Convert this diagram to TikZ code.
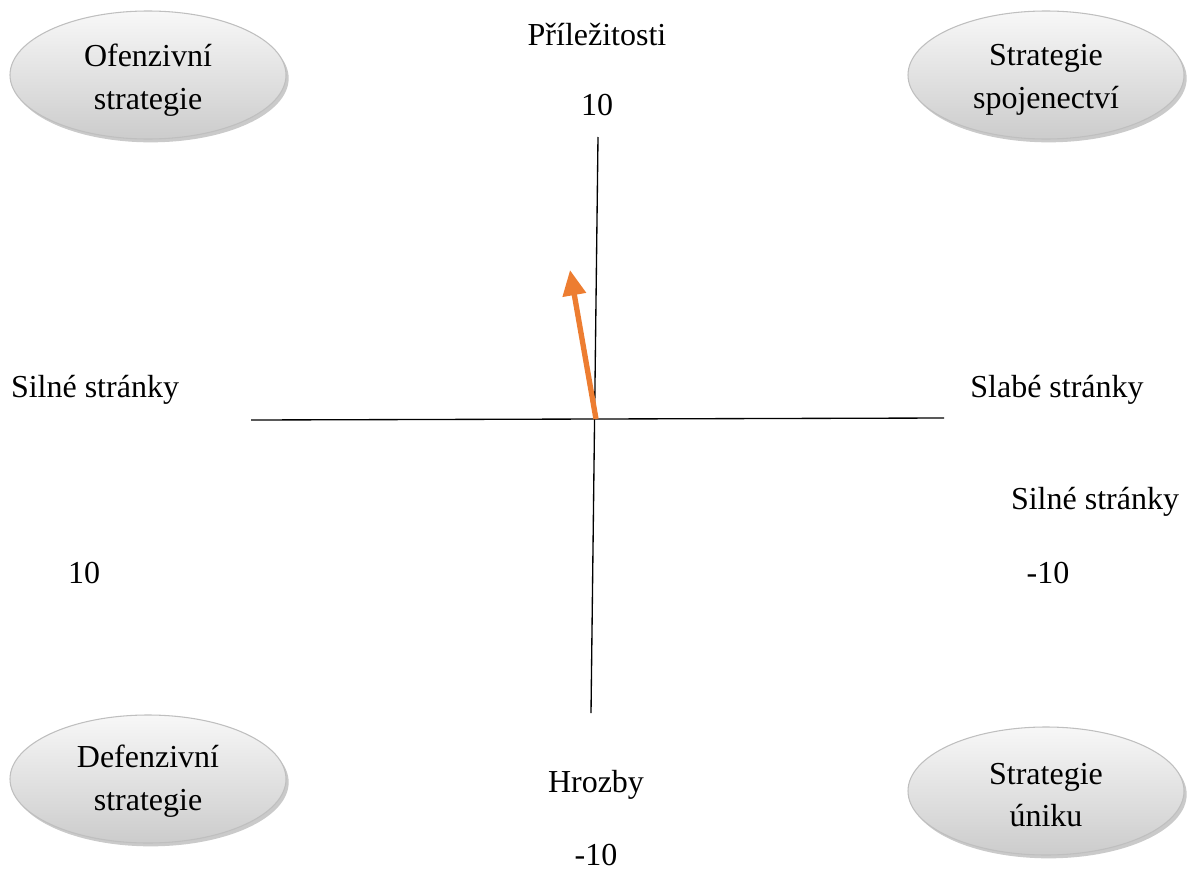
\documentclass[tikz,border=0pt]{standalone}
\usepackage{fontspec}
\setmainfont{Liberation Serif}
\usetikzlibrary{shapes.geometric,shadows,arrows.meta}
\tikzset{
  strat/.style={ellipse, minimum width=207pt, minimum height=96pt, inner sep=0pt,
    draw=black!25, line width=0.8pt, top color=black!3, bottom color=black!20,
    shading angle=0, drop shadow={shadow xshift=2pt, shadow yshift=-2.5pt, opacity=0.35, fill=black!60}},
  strattext/.style={align=center, inner sep=0pt, font=\fontsize{24}{32}\selectfont},
  lbl/.style={font=\fontsize{24}{28}\selectfont, inner sep=0pt},
  axis/.style={line width=1pt, draw=black},
  vec/.style={line width=4pt, draw={rgb,255:red,237;green,125;blue,49}, -{Triangle[length=19pt,width=17pt]}}
}
\begin{document}
\begin{tikzpicture}[x=0.75pt,y=-0.75pt]
\useasboundingbox (0,0) rectangle (1192,871);
\node[strat] (ofe) at (148,75) {};
\node[strat] (spo) at (1046,75) {};
\node[strat] (def) at (148,779) {};
\node[strat] (uni) at (1046,791) {};
\node[strattext] (ofet) at (148,80) {Ofenzivní\\strategie};
\node[strattext] (spot) at (1046,80) {Strategie\\spojenectví};
\node[strattext] (deft) at (148,781) {Defenzivní\\strategie};
\node[strattext] (unit) at (1046,795) {Strategie\\úniku};
\coordinate (vt) at (598,137);
\coordinate (vb) at (591,713);
\coordinate (hl) at (251,420);
\coordinate (hr) at (944,418);
\coordinate (o) at (596,419);
\coordinate (tip) at (570,270);
\draw[axis] (vt) -- (vb);
\draw[axis] (hl) -- (hr);
\draw[vec] (o) -- (tip);
\node[lbl] (pri) at (597,35) {Příležitosti};
\node[lbl] (p10) at (597,105) {10};
\node[lbl] (sil) at (95,390) {Silné stránky};
\node[lbl] (sla) at (1057,390) {Slabé stránky};
\node[lbl] (sil2) at (1095,502) {Silné stránky};
\node[lbl] (s10) at (84,573) {10};
\node[lbl] (sm10) at (1048,573) {-10};
\node[lbl] (hro) at (596,785) {Hrozby};
\node[lbl] (hm10) at (596,855) {-10};
\end{tikzpicture}
\end{document}
